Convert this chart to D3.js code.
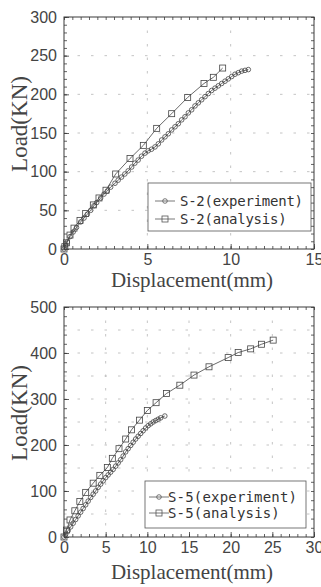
<!DOCTYPE html>
<html>
<head>
<meta charset="utf-8">
<script src="https://cdn.jsdelivr.net/npm/d3@7"></script>
<style>
  body { margin: 0; background: #fff; }
  svg { display: block; }
</style>
</head>
<body>
<div id="chart"></div>
<script>
// S-2 : load (kN) vs displacement (mm)
const S2_EXPERIMENT = [
  [0, 0], [0.1, 5], [0.2, 9], [0.36, 16], [0.55, 22], [0.75, 28], [1.0, 35],
  [1.2, 40], [1.4, 45], [1.6, 50], [1.8, 56], [1.96, 60], [2.2, 66], [2.4, 71],
  [2.6, 75], [2.8, 80], [3.06, 85], [3.25, 89], [3.45, 93], [3.65, 97], [3.85, 101],
  [4.06, 106], [4.25, 111], [4.45, 115], [4.65, 120], [4.86, 124], [5.05, 127],
  [5.25, 129], [5.46, 132], [5.66, 136], [5.86, 141], [6.06, 145], [6.26, 149],
  [6.46, 154], [6.66, 158], [6.86, 162], [7.06, 167], [7.26, 171], [7.46, 176],
  [7.66, 180], [7.86, 185], [8.06, 189], [8.26, 193], [8.46, 197], [8.66, 201],
  [8.86, 205], [9.06, 208], [9.26, 211], [9.46, 214], [9.66, 217], [9.86, 220],
  [10.06, 223], [10.26, 226], [10.46, 228], [10.66, 230], [10.86, 231], [11.06, 232]
];
const S2_ANALYSIS = [
  [0, 0], [0.05, 3], [0.15, 8], [0.36, 18], [0.6, 27], [0.96, 37], [1.3, 46],
  [1.76, 57], [2.1, 66], [2.52, 76], [3.1, 97], [3.96, 117], [4.76, 134],
  [5.56, 156], [6.46, 175], [7.42, 196], [8.4, 214], [8.96, 222], [9.52, 234]
];

// S-5 : load (kN) vs displacement (mm)
const S5_EXPERIMENT = [
  [0, 0], [0.2, 6], [0.5, 14], [0.8, 22], [1.1, 30], [1.4, 38], [1.7, 46],
  [2.0, 54], [2.3, 62], [2.6, 70], [2.9, 78], [3.2, 86], [3.5, 93], [3.8, 100],
  [4.1, 108], [4.4, 115], [4.7, 122], [5.0, 129], [5.3, 135], [5.6, 141],
  [5.9, 147], [6.2, 154], [6.5, 161], [6.8, 168], [7.1, 176], [7.4, 185],
  [7.7, 192], [8.0, 199], [8.3, 206], [8.6, 213], [8.9, 219], [9.2, 225],
  [9.5, 231], [9.8, 237], [10.1, 242], [10.4, 246], [10.7, 250], [11.0, 253],
  [11.3, 256], [11.6, 259], [12.1, 263]
];
const S5_ANALYSIS = [
  [0, 0], [0.3, 15], [0.72, 37], [1.3, 57], [1.9, 77], [2.6, 97], [3.5, 117],
  [4.3, 134], [5.2, 151], [5.8, 171], [6.6, 192], [7.4, 213], [8.1, 233],
  [9.05, 254], [10.0, 275], [11.05, 292], [12.3, 312], [13.9, 330], [15.6, 352],
  [17.4, 370], [19.7, 390], [20.9, 401], [22.4, 409], [23.7, 419], [25.1, 428]
];

// axis ticks
const S2_X_TICKS = [0, 5, 10, 15];
const S2_Y_TICKS = [0, 50, 100, 150, 200, 250, 300];
const S5_X_TICKS = [0, 5, 10, 15, 20, 25, 30];
const S5_Y_TICKS = [0, 100, 200, 300, 400, 500];

const S2_LEGEND = ["S-2(experiment)", "S-2(analysis)"];
const S5_LEGEND = ["S-5(experiment)", "S-5(analysis)"];

const WIDTH = 321;
const HEIGHT = 587;
const INK = "#3a3a3a";

const SVG = d3.select("#chart").append("svg")
  .attr("width", WIDTH)
  .attr("height", HEIGHT);

// DRAW PANEL
function drawPanel(p) {
  const x = d3.scaleLinear().domain([0, p.xMax]).range([64, 314]);
  const y = d3.scaleLinear().domain([0, p.yMax]).range([p.bottom, p.top]);
  const g = SVG.append("g");

  const xMinor = d3.range(0, p.xMax + 1e-9, p.xMinor);
  const yMinor = d3.range(0, p.yMax + 1e-9, p.yMinor);

  // grid
  g.append("g").selectAll("line")
    .data(p.xGrid).join("line")
    .attr("x1", d => x(d)).attr("x2", d => x(d))
    .attr("y1", y(p.yMax)).attr("y2", y(0))
    .attr("stroke", "#bdbdbd").attr("stroke-width", 0.9)
    .attr("stroke-dasharray", "2.5,11");
  g.append("g").selectAll("line")
    .data(p.yGrid).join("line")
    .attr("x1", x(0)).attr("x2", x(p.xMax))
    .attr("y1", d => y(d)).attr("y2", d => y(d))
    .attr("stroke", "#bdbdbd").attr("stroke-width", 0.9)
    .attr("stroke-dasharray", "2.5,11");

  // minor ticks on the four sides
  g.append("g").attr("transform", `translate(0,${y(0)})`)
    .call(d3.axisBottom(x).tickValues(xMinor).tickSize(-3).tickFormat(""));
  g.append("g").attr("transform", `translate(0,${y(p.yMax)})`)
    .call(d3.axisTop(x).tickValues(xMinor).tickSize(-3).tickFormat(""));
  g.append("g").attr("transform", `translate(${x(0)},0)`)
    .call(d3.axisLeft(y).tickValues(yMinor).tickSize(-3).tickFormat(""));
  g.append("g").attr("transform", `translate(${x(p.xMax)},0)`)
    .call(d3.axisRight(y).tickValues(yMinor).tickSize(-3).tickFormat(""));

  // major ticks + labels
  g.append("g").attr("class", "xlab").attr("transform", `translate(0,${y(0)})`)
    .call(d3.axisBottom(x).tickValues(p.xTicks).tickSize(-5).tickPadding(5).tickFormat(d3.format("d")));
  g.append("g").attr("class", "ylab").attr("transform", `translate(${x(0)},0)`)
    .call(d3.axisLeft(y).tickValues(p.yTicks).tickSize(-5).tickPadding(7).tickFormat(d3.format("d")));

  g.selectAll(".domain").remove();
  g.selectAll(".tick line").attr("stroke", INK).attr("stroke-width", 0.8);
  g.selectAll(".xlab text, .ylab text")
    .attr("fill", "#444")
    .style("font-family", "'Liberation Sans', Arial, sans-serif")
    .style("font-size", "16px");

  // frame
  g.append("rect")
    .attr("x", x(0)).attr("y", y(p.yMax))
    .attr("width", x(p.xMax) - x(0)).attr("height", y(0) - y(p.yMax))
    .attr("fill", "none").attr("stroke", INK).attr("stroke-width", 1);

  // series
  const line = d3.line().x(d => x(d[0])).y(d => y(d[1]));
  const marks = g.append("g").attr("stroke", "#444").attr("fill", "none");

  marks.append("path").datum(p.experiment)
    .attr("d", line).attr("stroke-width", 0.8);
  marks.append("g").selectAll("circle")
    .data(p.experiment).join("circle")
    .attr("cx", d => x(d[0])).attr("cy", d => y(d[1]))
    .attr("r", 2.3).attr("stroke-width", 0.8);

  marks.append("path").datum(p.analysis)
    .attr("d", line).attr("stroke-width", 0.8);
  marks.append("g").selectAll("rect")
    .data(p.analysis).join("rect")
    .attr("x", d => x(d[0]) - 3).attr("y", d => y(d[1]) - 3)
    .attr("width", 6).attr("height", 6).attr("stroke-width", 0.8);

  // axis titles
  g.append("text")
    .attr("x", 192).attr("y", p.xTitleY)
    .attr("text-anchor", "middle")
    .attr("fill", "#444")
    .style("font-family", "'Liberation Serif', 'Times New Roman', serif")
    .style("font-size", "21px")
    .text("Displacement(mm)");
  g.append("text")
    .attr("transform", `translate(27,${(p.top + p.bottom) / 2 - 9}) rotate(-90)`)
    .attr("text-anchor", "middle")
    .attr("fill", "#444")
    .style("font-family", "'Liberation Serif', 'Times New Roman', serif")
    .style("font-size", "23px")
    .text("Load(KN)");

  // legend
  const L = p.legend;
  g.append("rect")
    .attr("x", L.x).attr("y", L.y).attr("width", L.w).attr("height", L.h)
    .attr("fill", "#fff").attr("stroke", "#555").attr("stroke-width", 0.8);
  p.legendLabels.forEach((label, i) => {
    const cy = L.y + L.rowY[i];
    g.append("line")
      .attr("x1", L.markX - 10).attr("x2", L.markX + 10)
      .attr("y1", cy).attr("y2", cy)
      .attr("stroke", "#555").attr("stroke-width", 0.8);
    if (i === 0) {
      g.append("circle").attr("cx", L.markX).attr("cy", cy).attr("r", 2.3)
        .attr("fill", "none").attr("stroke", "#555").attr("stroke-width", 0.8);
    } else {
      g.append("rect").attr("x", L.markX - 3).attr("y", cy - 3)
        .attr("width", 6).attr("height", 6)
        .attr("fill", "none").attr("stroke", "#555").attr("stroke-width", 0.8);
    }
    g.append("text")
      .attr("x", L.textX).attr("y", cy + 5)
      .attr("fill", "#333")
      .attr("textLength", label.length * L.charW)
      .attr("lengthAdjust", "spacing")
      .style("font-family", "'DejaVu Sans Mono', monospace")
      .style("font-size", "14px")
      .text(label);
  });
}

drawPanel({
  xMax: 15, yMax: 300, top: 17, bottom: 249,
  xMinor: 0.5, yMinor: 10,
  xTicks: S2_X_TICKS, yTicks: S2_Y_TICKS,
  xGrid: [5, 10], yGrid: [50, 100, 150, 200, 250],
  experiment: S2_EXPERIMENT, analysis: S2_ANALYSIS,
  legendLabels: S2_LEGEND,
  legend: { x: 148, y: 183, w: 163, h: 48, rowY: [18, 36], markX: 165, textX: 180, charW: 8.2 },
  xTitleY: 287
});

drawPanel({
  xMax: 30, yMax: 500, top: 307, bottom: 537,
  xMinor: 1, yMinor: 20,
  xTicks: S5_X_TICKS, yTicks: S5_Y_TICKS,
  xGrid: [5, 10, 15, 20, 25], yGrid: [50, 100, 150, 200, 250, 300, 350, 400, 450],
  experiment: S5_EXPERIMENT, analysis: S5_ANALYSIS,
  legendLabels: S5_LEGEND,
  legend: { x: 145, y: 481, w: 161, h: 47, rowY: [16, 32], markX: 159, textX: 168, charW: 8.6 },
  xTitleY: 579
});
</script>
</body>
</html>
